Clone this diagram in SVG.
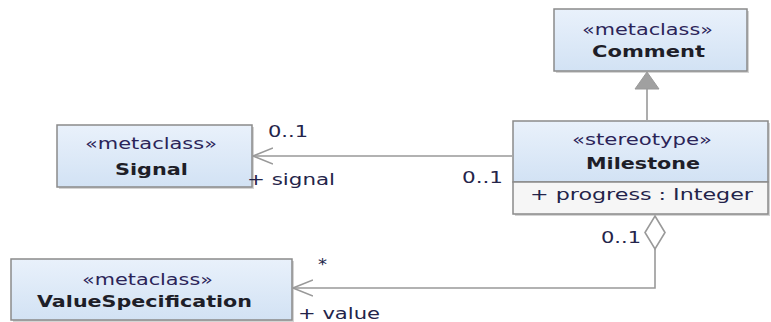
<svg xmlns="http://www.w3.org/2000/svg" width="771" height="322" viewBox="0 0 771 322">
  <defs>
    <linearGradient id="boxFill" x1="0" y1="0" x2="0" y2="1">
      <stop offset="0" stop-color="#e9f1fb"/>
      <stop offset="1" stop-color="#d2e2f4"/>
    </linearGradient>
    <marker id="open" viewBox="0 0 21 18" refX="20" refY="9" markerWidth="21" markerHeight="18" markerUnits="userSpaceOnUse" orient="auto">
      <path d="M0,1 L20,9 L0,17" fill="none" stroke="#999" stroke-width="1.6"/>
    </marker>
    <style>
      .box { fill: url(#boxFill); stroke: #8a8a8a; stroke-width: 1.5; }
      .attr { fill: #f6f6f6; stroke: #8a8a8a; stroke-width: 1.5; }
      .shadow { fill: #d4d4d4; }
      .st { font-family: "DejaVu Sans", "Liberation Sans", sans-serif; font-size: 15.5px; fill: #2b2458; }
      .nm { font-family: "DejaVu Sans", "Liberation Sans", sans-serif; font-size: 16.5px; font-weight: bold; fill: #1e1e28; }
      .lb { font-family: "DejaVu Sans", "Liberation Sans", sans-serif; font-size: 16px; fill: #24244a; }
      .edge { fill: none; stroke: #999; stroke-width: 1.6; }
    </style>
  </defs>

  <g id="comment">
    <rect class="shadow" x="556" y="11" width="193" height="62"/>
    <rect class="box" x="554" y="9" width="193" height="62"/>
    <text class="st" x="582" y="35" textLength="131" lengthAdjust="spacingAndGlyphs">«metaclass»</text>
    <text class="nm" x="592" y="57" textLength="113" lengthAdjust="spacingAndGlyphs">Comment</text>
  </g>

  <g id="milestone">
    <rect class="shadow" x="515" y="123" width="255" height="93"/>
    <rect class="box" x="513" y="121" width="255" height="61"/>
    <rect class="attr" x="513" y="182" width="255" height="32"/>
    <text class="st" x="572" y="145" textLength="140" lengthAdjust="spacingAndGlyphs">«stereotype»</text>
    <text class="nm" x="586" y="169" textLength="114" lengthAdjust="spacingAndGlyphs">Milestone</text>
    <text class="lb" x="530" y="200" textLength="223" lengthAdjust="spacingAndGlyphs">+ progress : Integer</text>
  </g>

  <g id="signal">
    <rect class="shadow" x="59" y="127" width="195" height="62"/>
    <rect class="box" x="57" y="125" width="195" height="62"/>
    <text class="st" x="85" y="149" textLength="132" lengthAdjust="spacingAndGlyphs">«metaclass»</text>
    <text class="nm" x="115" y="175" textLength="73" lengthAdjust="spacingAndGlyphs">Signal</text>
  </g>

  <g id="valuespecification">
    <rect class="shadow" x="13" y="261" width="281" height="62"/>
    <rect class="box" x="11" y="259" width="281" height="61"/>
    <text class="st" x="82" y="285" textLength="131" lengthAdjust="spacingAndGlyphs">«metaclass»</text>
    <text class="nm" x="37" y="307" textLength="215" lengthAdjust="spacingAndGlyphs">ValueSpecification</text>
  </g>

  <g id="connectors">
    <!-- generalization Milestone -> Comment -->
    <line class="edge" x1="647" y1="88" x2="647" y2="120"/>
    <polygon points="647,72 635,89 659,89" fill="#a0a0a0" stroke="#999" stroke-width="1"/>
    <!-- association Milestone -> Signal -->
    <line class="edge" x1="512" y1="156" x2="253" y2="156" marker-end="url(#open)"/>
    <!-- aggregation Milestone -> ValueSpecification -->
    <polyline class="edge" points="655,249 655,288 293,288" marker-end="url(#open)"/>
    <polygon points="655,216 665,232.5 655,249 645,232.5" fill="#ffffff" stroke="#999" stroke-width="1.6"/>
    <text class="lb" x="268" y="137" textLength="40" lengthAdjust="spacingAndGlyphs">0..1</text>
    <text class="lb" x="247" y="185" textLength="88" lengthAdjust="spacingAndGlyphs">+ signal</text>
    <text class="lb" x="462" y="183" textLength="41" lengthAdjust="spacingAndGlyphs">0..1</text>
    <text class="lb" x="601" y="243" textLength="40" lengthAdjust="spacingAndGlyphs">0..1</text>
    <text class="lb" x="318" y="270" textLength="9" lengthAdjust="spacingAndGlyphs">*</text>
    <text class="lb" x="298" y="319" textLength="82" lengthAdjust="spacingAndGlyphs">+ value</text>
  </g>
</svg>
